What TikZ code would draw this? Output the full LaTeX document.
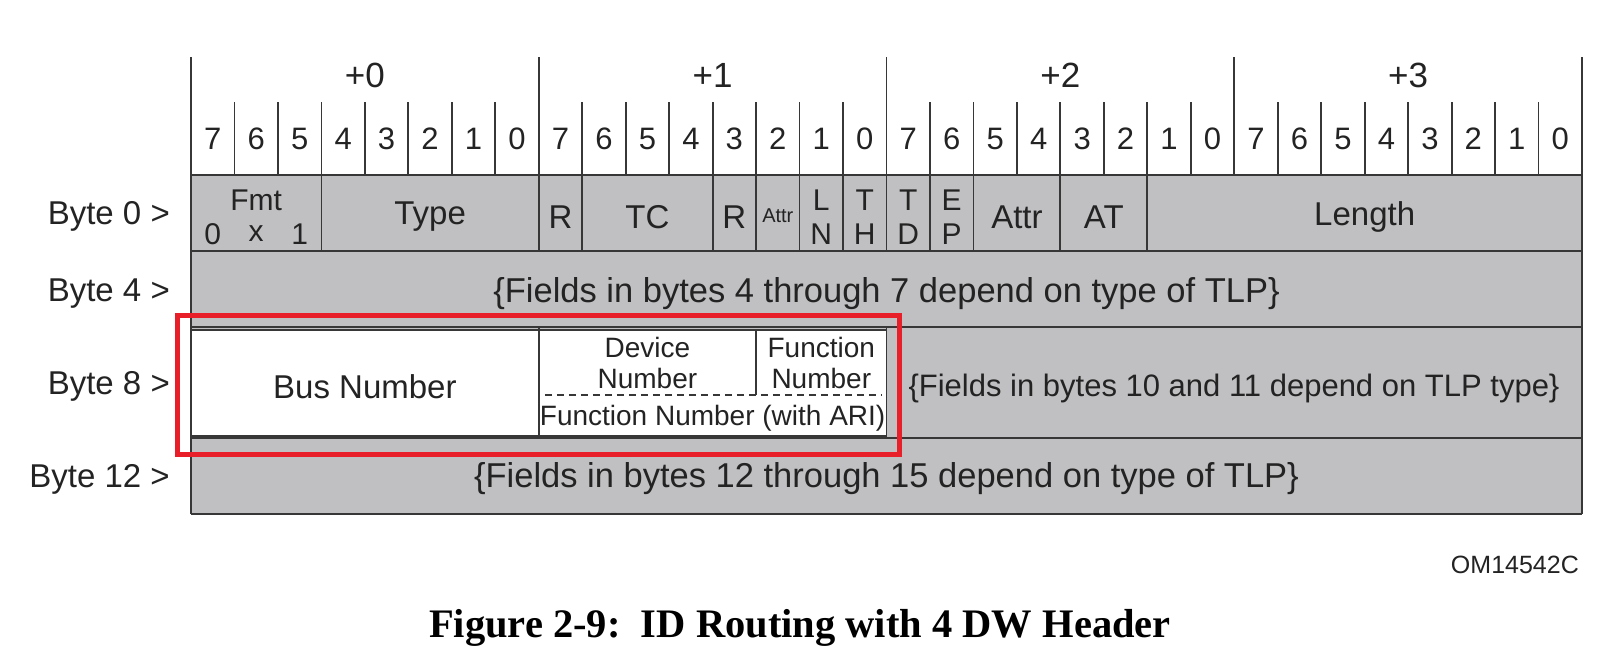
\documentclass[tikz,border=0pt]{standalone}
\usepackage{fontspec}
\setmainfont{Liberation Sans}
\newfontfamily\capfont{Liberation Serif}
\definecolor{fieldgray}{RGB}{192,192,194}
\definecolor{linegray}{RGB}{55,55,55}
\definecolor{txtgray}{RGB}{35,35,35}
\definecolor{hilite}{RGB}{232,30,40}
\newcommand{\fsz}[1]{\fontsize{#1}{#1}\selectfont}
\def\bw{43.46875}
\def\L{191}
\begin{document}
\begin{tikzpicture}[x=1pt,y=-1pt,
  gridline/.style={draw=linegray,line width=1.8pt},
  txt/.style={inner sep=0pt,text=txtgray,font=\fsz{33}},
  wide/.style={inner sep=0pt,text=txtgray,font=\fsz{34.5}},
  bitnum/.style={inner sep=0pt,text=txtgray,font=\fsz{31}},
  bytehead/.style={inner sep=0pt,text=txtgray,font=\fsz{35}},
  small/.style={inner sep=0pt,text=txtgray,font=\fsz{28}},
  stack/.style={inner sep=0pt,text=txtgray,font=\fsz{30}},
  whitebox/.style={fill=white,draw=linegray,line width=1.8pt},
  redbox/.style={draw=hilite,line width=5pt}]
\useasboundingbox (0,0) rectangle (1611,664);
% gray body
\fill[fieldgray] (\L,175) rectangle (1582,514);
% white fields of byte 8
\path[whitebox] (\L,330) rectangle ({\L+8*\bw},436);
\path[whitebox] ({\L+8*\bw},330) rectangle ({\L+16*\bw},436);
% horizontal row lines
\foreach \y in {175,251,327,438,514}
  \draw[gridline] (\L,\y) -- (1582,\y);
% outer borders and byte ticks
\draw[gridline] (\L,57) -- (\L,514);
\draw[gridline] (1582,57) -- (1582,514);
\foreach \i in {8,16,24}
  \draw[gridline] ({\L+\i*\bw},57) -- ({\L+\i*\bw},175);
\foreach \i in {1,...,31}{
  \pgfmathtruncatemacro{\m}{mod(\i,8)}
  \ifnum\m>0 \draw[gridline] ({\L+\i*\bw},102) -- ({\L+\i*\bw},175);\fi
}
% row 0 dividers
\foreach \i in {3,8,9,12,13,14,15,16,17,18,20,22}
  \draw[gridline] ({\L+\i*\bw},175) -- ({\L+\i*\bw},251);
% row 8 dividers
\draw[gridline] ({\L+8*\bw},327) -- ({\L+8*\bw},438);
\draw[gridline] ({\L+16*\bw},327) -- ({\L+16*\bw},438);
\draw[gridline] ({\L+13*\bw},330) -- ({\L+13*\bw},395);
\draw[draw=linegray,line width=1.6pt,dash pattern=on 7pt off 5pt] ({\L+8*\bw+6},395) -- ({\L+16*\bw-5},395);
% byte headings
\node[bytehead] (h0) at ({\L+4*\bw},75) {+0};
\node[bytehead] (h1) at ({\L+12*\bw},75) {+1};
\node[bytehead] (h2) at ({\L+20*\bw},75) {+2};
\node[bytehead] (h3) at ({\L+28*\bw},75) {+3};
% bit numbers
\foreach \i in {0,...,31}{
  \pgfmathtruncatemacro{\b}{7-mod(\i,8)}
  \node[bitnum] (bit\i) at ({\L+(\i+0.5)*\bw},139) {\b};
}
% row labels
\node[txt,anchor=east] (lb0) at (170,216) {Byte 0 >};
\node[txt,anchor=east] (lb4) at (170,294) {Byte 4 >};
\node[txt,anchor=east] (lb8) at (170,386) {Byte 8 >};
\node[txt,anchor=east] (lb12) at (170,479) {Byte 12 >};
% row 0 fields
\node[stack] (fmt) at ({\L+1.5*\bw},200) {Fmt};
\node[stack] (fmt0) at ({\L+0.5*\bw},234) {0};
\node[stack] (fmtx) at ({\L+1.5*\bw},234) {x};
\node[stack] (fmt1) at ({\L+2.5*\bw},234) {1};
\node[txt] (type) at ({\L+5.5*\bw},217) {Type};
\node[txt] (r1) at ({\L+8.5*\bw},217) {R};
\node[txt] (tc) at ({\L+10.5*\bw},217) {TC};
\node[txt] (r2) at ({\L+12.5*\bw},217) {R};
\node[inner sep=0pt,text=txtgray,font=\fsz{20}] (attra) at ({\L+13.5*\bw},216) {Attr};
\node[stack] (ln1) at ({\L+14.5*\bw},200) {L};
\node[stack] (ln2) at ({\L+14.5*\bw},234) {N};
\node[stack] (th1) at ({\L+15.5*\bw},200) {T};
\node[stack] (th2) at ({\L+15.5*\bw},234) {H};
\node[stack] (td1) at ({\L+16.5*\bw},200) {T};
\node[stack] (td2) at ({\L+16.5*\bw},234) {D};
\node[stack] (ep1) at ({\L+17.5*\bw},200) {E};
\node[stack] (ep2) at ({\L+17.5*\bw},234) {P};
\node[txt] (attrb) at ({\L+19*\bw},217) {Attr};
\node[txt] (at) at ({\L+21*\bw},217) {AT};
\node[txt] (len) at ({\L+27*\bw},217) {Length};
% row 4
\node[wide] (row4) at (886.5,294) {\{Fields in bytes 4 through 7 depend on type of TLP\}};
% row 8
\node[txt] (bus) at ({\L+4*\bw},387) {Bus Number};
\node[small,align=center] (dev) at ({\L+10.5*\bw},363) {Device\\[3pt]Number};
\node[small,align=center] (fun) at ({\L+14.5*\bw},363) {Function\\[3pt]Number};
\node[small] (funari) at ({\L+12*\bw},418) {Function Number (with ARI)};
\node[inner sep=0pt,text=txtgray,font=\fsz{31}] (row8) at (1234,388) {\{Fields in bytes 10 and 11 depend on TLP type\}};
% row 12
\node[wide] (row12) at (886.5,479) {\{Fields in bytes 12 through 15 depend on type of TLP\}};
% highlight
\draw[redbox] (177,315) rectangle (899,454);
% id and caption
\node[inner sep=0pt,text=txtgray,font=\fsz{25},anchor=east] (om) at (1579,565) {OM14542C};
\node[inner sep=0pt,font=\capfont\bfseries\fsz{40.5}] (cap) at (800,628) {Figure 2-9:\ \ ID Routing with 4 DW Header};
\end{tikzpicture}
\end{document}
